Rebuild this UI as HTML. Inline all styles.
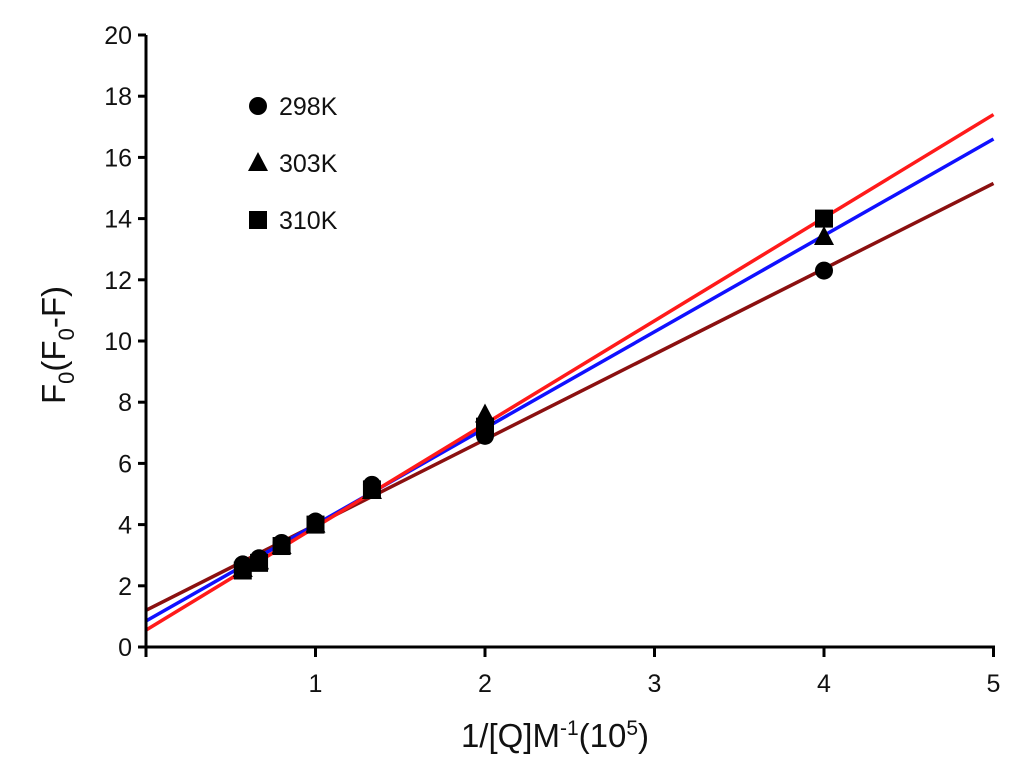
<!DOCTYPE html>
<html><head><meta charset="utf-8"><style>
body{margin:0;background:#fff;font-family:"Liberation Sans",sans-serif}
svg text{font-family:"Liberation Sans",sans-serif;fill:#111}
</style></head><body>
<svg id="c" width="1024" height="773"></svg>
<script>
const xs=[0.571,0.667,0.8,1,1.333,2,4];
const s298=[2.7,2.9,3.4,4.1,5.3,6.9,12.3];
const s303=[2.55,2.8,3.3,4.0,5.1,7.6,13.4];
const s310=[2.5,2.75,3.3,4.0,5.15,7.2,14.0];
const fitIntercepts=[1.2,0.85,0.55];
const fitEnds=[15.15,16.6,17.4];
const fitColors=['#8b1010','#1010ff','#ff1a1a'];
const xTicks=[1,2,3,4,5];
const yTicks=[0,2,4,6,8,10,12,14,16,18,20];
const X=v=>146+v*169.5, Y=v=>647-v*30.6;
const svg=document.getElementById('c'),NS='http://www.w3.org/2000/svg';
function mk(t,a,p){const e=document.createElementNS(NS,t);for(const k in a)e.setAttribute(k,a[k]);(p||svg).appendChild(e);return e;}
fitIntercepts.forEach((b,i)=>{
 const l=mk('line',{x1:X(0),y1:Y(b),x2:X(5),y2:Y(fitEnds[i]),stroke:fitColors[i],'stroke-width':3.5});
 
 
});
function circ(x,y,n){const e=mk('circle',{cx:x,cy:y,r:9,fill:'#000'});}
function tri(x,y,n){const e=mk('polygon',{points:`${x},${y-11} ${x-10},${y+8} ${x+10},${y+8}`,fill:'#000'});}
function sq(x,y,n){const e=mk('rect',{x:x-9,y:y-9,width:18,height:18,fill:'#000'});}
xs.forEach((x,i)=>{sq(X(x),Y(s310[i]),'point-310k');tri(X(x),Y(s303[i]),'point-303k');circ(X(x),Y(s298[i]),'point-298k');});
const ax=mk('path',{d:`M146,35 V647 H995`,stroke:'#000','stroke-width':3,fill:'none'});

yTicks.forEach(v=>{
 mk('line',{x1:138,y1:Y(v),x2:146,y2:Y(v),stroke:'#000','stroke-width':3});
 const t=mk('text',{x:132,y:Y(v)+9,'text-anchor':'end','font-size':25});t.textContent=v;
 
});
xTicks.forEach(v=>{
 mk('line',{x1:X(v),y1:647,x2:X(v),y2:657,stroke:'#000','stroke-width':3});
 const t=mk('text',{x:X(v),y:692,'text-anchor':'middle','font-size':25});t.textContent=v;
 
});
mk('line',{x1:146,y1:647,x2:146,y2:657,stroke:'#000','stroke-width':3});
const xt=mk('text',{x:555,y:747,'text-anchor':'middle','font-size':33});
xt.innerHTML='1/[Q]M<tspan dy="-12" font-size="21">-1</tspan><tspan dy="12">(10</tspan><tspan dy="-12" font-size="21">5</tspan><tspan dy="12">)</tspan>';

const yt=mk('text',{transform:'translate(65,345) rotate(-90)','text-anchor':'middle','font-size':33});
yt.innerHTML='F<tspan dy="9" font-size="22">0</tspan><tspan dy="-9">(F</tspan><tspan dy="9" font-size="22">0</tspan><tspan dy="-9">-F)</tspan>';

const lg=[['298K',circ],['303K',tri],['310K',sq]];
lg.forEach((d,i)=>{const y=106+i*57;d[1](258,y,'legend-marker');
 const t=mk('text',{x:279,y:y+9,'font-size':25});t.textContent=d[0];
 });
</script>
</body></html>
